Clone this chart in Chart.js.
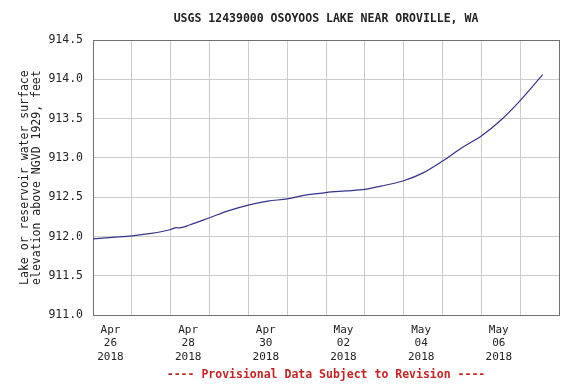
<!DOCTYPE html>
<html>
<head>
<meta charset="utf-8">
<script src="https://cdn.jsdelivr.net/npm/chart.js@4"></script>
<style>
  body { margin: 0; background: #fff; }
  canvas { display: block; }
</style>
</head>
<body>
<canvas id="lakeChart" width="576" height="384"></canvas>
<script>
// days since Apr 26 2018 00:00
const dayOffsets = [0, 0.5, 1, 1.5, 2, 2.15, 2.2, 2.5, 3, 3.5, 4, 4.5, 5, 5.5, 6, 6.5, 7, 7.5, 8, 8.5, 9, 9.5, 10, 10.5, 11, 11.58];
const elevations = [911.97, 911.99, 912.01, 912.04, 912.09, 912.115, 912.11, 912.15, 912.24, 912.33, 912.40, 912.45, 912.48, 912.53, 912.56, 912.58, 912.60, 912.65, 912.71, 912.81, 912.96, 913.13, 913.28, 913.48, 913.73, 914.06];

const labelDays = [0.45, 2.45, 4.45, 6.45, 8.45, 10.45];
const xTickLabels = [
  ['Apr', '26', '2018'],
  ['Apr', '28', '2018'],
  ['Apr', '30', '2018'],
  ['May', '02', '2018'],
  ['May', '04', '2018'],
  ['May', '06', '2018']
];

const chartTitle = 'USGS 12439000 OSOYOOS LAKE NEAR OROVILLE, WA';
const yTitle = ['Lake or reservoir water surface', 'elevation above NGVD 1929, feet'];
const footNote = '---- Provisional Data Subject to Revision ----';

const MONO = "'DejaVu Sans Mono', monospace";
const GRID = '#cccccc';
const FRAME = '#707070';

const ctx = document.getElementById('lakeChart').getContext('2d');

new Chart(ctx, {
  type: 'line',
  data: {
    datasets: [{
      data: dayOffsets.map((d, i) => ({ x: d, y: elevations[i] })),
      borderColor: '#34348a',
      borderWidth: 1.2,
      pointRadius: 0,
      cubicInterpolationMode: 'monotone',
      xAxisID: 'x',
      yAxisID: 'y'
    }]
  },
  options: {
    responsive: false,
    animation: false,
    layout: { padding: { left: 0, right: 17, top: 0, bottom: 0 } },
    plugins: {
      legend: { display: false },
      tooltip: { enabled: false },
      title: {
        display: true,
        fullSize: false,
        text: chartTitle,
        color: '#222',
        font: { family: MONO, size: 11.5, weight: 'bold' },
        padding: { top: 12.6, bottom: 13.6 }
      },
      subtitle: {
        display: true,
        fullSize: false,
        position: 'bottom',
        text: footNote,
        color: '#c62424',
        font: { family: MONO, size: 11.5, weight: 'bold' },
        padding: { top: 5, bottom: 2 }
      }
    },
    scales: {
      x: {
        type: 'linear',
        position: 'bottom',
        min: 0,
        max: 12,
        afterBuildTicks: function(scale) {
          scale.ticks = [0,1,2,3,4,5,6,7,8,9,10,11,12].map(v => ({ value: v }));
        },
        afterFit: function(scale) { scale.height = 0; },
        ticks: { display: false },
        grid: {
          drawTicks: false,
          color: c => (c.tick && c.tick.value === 12) ? FRAME : GRID
        },
        border: { color: FRAME }
      },
      xLabels: {
        type: 'linear',
        position: 'bottom',
        min: 0,
        max: 12,
        afterBuildTicks: function(scale) {
          scale.ticks = labelDays.map(v => ({ value: v }));
        },
        afterFit: function(scale) { scale.height = 48; },
        ticks: {
          autoSkip: false,
          maxRotation: 0,
          padding: 8,
          color: '#222',
          font: { family: MONO, size: 11, lineHeight: 1.22 },
          callback: (v, i) => xTickLabels[i]
        },
        grid: { display: false, drawTicks: false },
        border: { display: false }
      },
      y: {
        min: 911,
        max: 914.5,
        afterFit: function(scale) { scale.width = 93; },
        ticks: {
          stepSize: 0.5,
          padding: 10,
          color: '#222',
          font: { family: MONO, size: 11.5 },
          callback: v => v.toFixed(1)
        },
        grid: {
          drawTicks: false,
          color: c => (c.tick && c.tick.value === 914.5) ? FRAME : GRID
        },
        border: { color: FRAME },
        title: {
          display: true,
          text: yTitle,
          color: '#222',
          font: { family: MONO, size: 11.5, lineHeight: 1.05 },
          padding: { top: 19, bottom: 0 }
        }
      }
    }
  }
});
</script>
</body>
</html>
